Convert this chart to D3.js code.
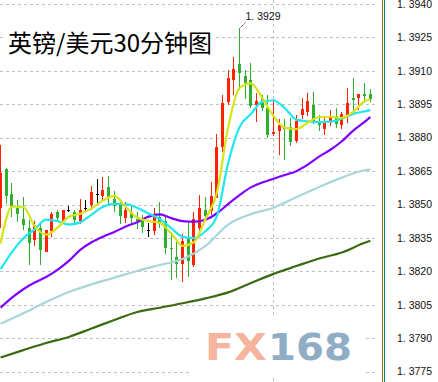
<!DOCTYPE html>
<html>
<head>
<meta charset="utf-8">
<script src="https://cdn.jsdelivr.net/npm/d3@7"></script>
<style>
  html, body { margin: 0; padding: 0; background: #fff; overflow: hidden; }
</style>
</head>
<body>
<div id="chart"></div>
<script>
// GBP/USD 30-minute candles, bar index 0..65
const opens = [1.38485,1.38660,1.38548,1.38485,1.38435,1.38395,1.38341,1.38395,1.38287,1.38381,
  1.38467,1.38426,1.38476,1.38467,1.38426,1.38485,1.38498,1.38548,1.38539,1.38579,
  1.38525,1.38498,1.38440,1.38467,1.38435,1.38435,1.38386,1.38381,1.38444,1.38426,
  1.38305,1.38265,1.38233,1.38346,1.38229,1.38395,1.38476,1.38471,1.38530,1.38758,
  1.38960,1.39059,1.39131,1.39077,1.39059,1.38947,1.38978,1.38933,1.38817,1.38830,
  1.38848,1.38848,1.38785,1.38902,1.38915,1.38947,1.38875,1.38839,1.38875,1.38897,
  1.38857,1.38897,1.38978,1.38978,1.38996,1.38996];
const highs = [1.38767,1.38664,1.38597,1.38521,1.38534,1.38431,1.38426,1.38413,1.38386,1.38467,
  1.38476,1.38476,1.38494,1.38476,1.38525,1.38521,1.38583,1.38615,1.38624,1.38628,
  1.38561,1.38525,1.38512,1.38498,1.38467,1.38453,1.38417,1.38485,1.38512,1.38453,
  1.38372,1.38341,1.38368,1.38417,1.38467,1.38543,1.38534,1.38601,1.38817,1.38992,
  1.39104,1.39162,1.39290,1.39104,1.39135,1.39001,1.38992,1.38992,1.38974,1.38884,
  1.38884,1.38888,1.38902,1.38978,1.39001,1.39005,1.38902,1.38893,1.38924,1.38933,
  1.38915,1.39023,1.39068,1.38996,1.39046,1.39019];
const lows = [1.38395,1.38503,1.38444,1.38422,1.38386,1.38229,1.38314,1.38229,1.38287,1.38355,
  1.38422,1.38413,1.38467,1.38417,1.38413,1.38467,1.38476,1.38498,1.38521,1.38498,
  1.38467,1.38413,1.38417,1.38408,1.38390,1.38372,1.38355,1.38364,1.38395,1.38278,
  1.38162,1.38171,1.38153,1.38175,1.38220,1.38372,1.38431,1.38453,1.38530,1.38736,
  1.38947,1.38992,1.39014,1.38974,1.38933,1.38871,1.38920,1.38799,1.38808,1.38723,
  1.38700,1.38763,1.38776,1.38884,1.38897,1.38862,1.38830,1.38812,1.38853,1.38844,
  1.38839,1.38866,1.38915,1.38924,1.38956,1.38960];
const closes = [1.38642,1.38539,1.38489,1.38458,1.38408,1.38328,1.38408,1.38296,1.38386,1.38458,
  1.38440,1.38476,1.38476,1.38431,1.38476,1.38485,1.38557,1.38548,1.38566,1.38534,
  1.38494,1.38449,1.38476,1.38440,1.38426,1.38399,1.38386,1.38458,1.38413,1.38305,
  1.38301,1.38233,1.38337,1.38247,1.38435,1.38485,1.38449,1.38539,1.38758,1.38956,
  1.39068,1.39108,1.39090,1.39046,1.38942,1.38965,1.38933,1.38812,1.38826,1.38857,
  1.38839,1.38781,1.38875,1.38929,1.38965,1.38871,1.38857,1.38875,1.38897,1.38862,
  1.38906,1.38956,1.38969,1.38996,1.38987,1.38974];

// moving averages (bar index -> price)
const fastIdx = [0,2,4,6,8,10,12,14,16,18,20,22,24,26,28,30,32,34,36,38,40,42,44,46,48,50,52,54,56,58,60,62,64,65];
const maYellow = [1.38325,1.38491,1.38489,1.38402,1.38365,1.38396,1.38445,1.38459,1.38483,1.38518,
  1.38539,1.38489,1.38442,1.38426,1.38418,1.38371,1.38315,1.38332,1.38434,1.38551,
  1.38845,1.39023,1.39044,1.38979,1.38897,1.38844,1.38839,1.38867,1.38893,1.38894,
  1.38889,1.38916,1.38964,1.38972];
const maCyan = [1.38210,1.38287,1.38349,1.38389,1.38432,1.38425,1.38410,1.38420,1.38455,1.38490,
  1.38503,1.38502,1.38486,1.38460,1.38435,1.38394,1.38355,1.38349,1.38380,1.38446,
  1.38686,1.38847,1.38906,1.38961,1.38967,1.38932,1.38881,1.38873,1.38870,1.38872,
  1.38885,1.38907,1.38918,1.38924];
const maPurple = [1.38037,1.38082,1.38120,1.38150,1.38175,1.38207,1.38247,1.38297,1.38331,1.38356,
  1.38377,1.38402,1.38421,1.38446,1.38456,1.38439,1.38426,1.38423,1.38432,1.38460,
  1.38502,1.38542,1.38577,1.38599,1.38616,1.38633,1.38650,1.38679,1.38715,1.38746,
  1.38784,1.38832,1.38871,1.38892];
const slowIdx = [0,4,8,12,16,20,24,28,32,36,40,44,48,52,56,60,64,65];
const maLightBlue = [1.37965,1.38012,1.38063,1.38108,1.38142,1.38172,1.38202,1.38229,1.38256,
  1.38314,1.38410,1.38457,1.38486,1.38533,1.38579,1.38621,1.38654,1.38657];
const maDarkGreen = [1.37814,1.37847,1.37879,1.37906,1.37944,1.37982,1.38018,1.38037,1.38057,
  1.38079,1.38106,1.38148,1.38189,1.38224,1.38258,1.38285,1.38329,1.38338];

const yTicks = [1.3940,1.3925,1.3910,1.3895,1.3880,1.3865,1.3850,1.3835,1.3820,1.3805,1.3790,1.3775];
const title = '英镑/美元30分钟图';
const gridBar = 48;

const W = 438, H = 382;
const svg = d3.select('#chart').append('svg')
  .attr('width', W).attr('height', H)
  .style('display', 'block');

const x = d3.scaleLinear().domain([0, 65]).range([0.6, 370.3]);
const y = d3.scaleLinear().domain([1.3775, 1.3940]).range([371.7, 4]);
const fmt = d3.format('.4f');

svg.append('rect').attr('width', W).attr('height', H).attr('fill', '#fff');

// grid
const grid = svg.append('g').attr('stroke', '#c0c0c0').attr('stroke-dasharray', '3,3');
grid.selectAll('line.h').data(yTicks).join('line')
  .attr('class', 'h')
  .attr('x1', 0).attr('x2', 375)
  .attr('y1', d => Math.round(y(d)) + 0.5)
  .attr('y2', d => Math.round(y(d)) + 0.5);
grid.append('line')
  .attr('x1', Math.floor(x(gridBar)) + 0.5).attr('x2', Math.floor(x(gridBar)) + 0.5)
  .attr('y1', 0).attr('y2', H);

// candles
const bars = d3.range(opens.length).map(i => ({ i, o: opens[i], h: highs[i], l: lows[i], c: closes[i] }));
const colorOf = d => d.c > d.o ? '#ff2200' : (d.c < d.o ? '#2fae2f' : '#000');
const cg = svg.append('g').attr('shape-rendering', 'crispEdges');
const candle = cg.selectAll('g').data(bars).join('g');
candle.append('rect')
  .attr('x', d => Math.floor(x(d.i)))
  .attr('width', 1)
  .attr('y', d => Math.round(y(d.h)))
  .attr('height', d => Math.max(1, Math.round(y(d.l)) - Math.round(y(d.h))))
  .attr('fill', colorOf);
candle.append('rect')
  .attr('x', d => Math.floor(x(d.i)) - 1)
  .attr('width', 3)
  .attr('y', d => Math.round(y(Math.max(d.o, d.c))))
  .attr('height', d => Math.max(1, Math.round(y(Math.min(d.o, d.c))) - Math.round(y(Math.max(d.o, d.c)))))
  .attr('fill', colorOf);

// moving averages
const line = d3.line().x(d => x(d[0])).y(d => y(d[1])).curve(d3.curveMonotoneX);
const series = [
  { idx: slowIdx, v: maDarkGreen, color: '#3a6b12' },
  { idx: slowIdx, v: maLightBlue, color: '#a8d6db' },
  { idx: fastIdx, v: maPurple, color: '#8000ff' },
  { idx: fastIdx, v: maCyan, color: '#1fe8f0' },
  { idx: fastIdx, v: maYellow, color: '#d6e41a' }
];
svg.append('g').attr('fill', 'none')
  .selectAll('path').data(series).join('path')
  .attr('d', s => line(s.idx.map((k, j) => [k, s.v[j]])))
  .attr('stroke', s => s.color)
  .attr('stroke-width', 2.2);

// high marker
const hiBar = d3.maxIndex(highs);
const hx = Math.floor(x(hiBar)) + 0.5, hy = y(highs[hiBar]);
svg.append('line')
  .attr('x1', hx).attr('y1', hy).attr('x2', hx + 6).attr('y2', hy - 6)
  .attr('stroke', '#000').attr('stroke-dasharray', '1,1');
svg.append('text')
  .attr('x', hx + 6).attr('y', hy - 8.5)
  .attr('font-family', 'Liberation Sans, Arial, sans-serif')
  .attr('font-size', 10.5).attr('fill', '#111')
  .text(fmt(highs[hiBar]).replace('.', '. '));

// title
svg.append('rect').attr('x', 5).attr('y', 29).attr('width', 211).attr('height', 29).attr('fill', '#fff');
svg.append('text')
  .attr('x', 8).attr('y', 52)
  .attr('font-family', 'Noto Sans CJK SC, sans-serif')
  .attr('font-size', 24).attr('fill', '#000')
  .text(title);

// watermark
svg.append('rect').attr('x', 192).attr('y', 318).attr('width', 174).attr('height', 58).attr('fill', '#fff');
svg.append('text')
  .attr('x', 205).attr('y', 360)
  .attr('font-family', 'DejaVu Sans, sans-serif').attr('font-weight', 'bold')
  .attr('font-size', 38).attr('fill', '#f5b49b')
  .attr('textLength', 62).attr('lengthAdjust', 'spacingAndGlyphs')
  .text('FX');
svg.append('text')
  .attr('x', 268).attr('y', 360)
  .attr('font-family', 'DejaVu Sans, sans-serif').attr('font-weight', 'bold')
  .attr('font-size', 38).attr('fill', '#8fadc5')
  .attr('textLength', 84).attr('lengthAdjust', 'spacingAndGlyphs')
  .text('168');

// right axis
svg.append('line').attr('x1', 382.5).attr('x2', 382.5).attr('y1', 0).attr('y2', H).attr('stroke', '#808000');
svg.append('line').attr('x1', 384.5).attr('x2', 384.5).attr('y1', 0).attr('y2', H).attr('stroke', '#008080');
svg.append('g').selectAll('text').data(yTicks).join('text')
  .attr('x', 432).attr('y', d => y(d))
  .attr('dy', '0.35em')
  .attr('text-anchor', 'end')
  .attr('font-family', 'Liberation Sans, Arial, sans-serif')
  .attr('font-size', 10.5).attr('fill', '#111')
  .text(d => fmt(d).replace('.', '. '));
</script>
</body>
</html>
